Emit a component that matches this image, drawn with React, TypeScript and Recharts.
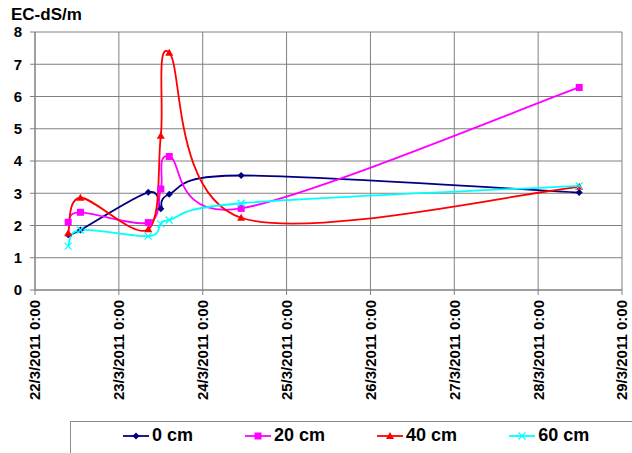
import { LineChart, Line, XAxis, YAxis, CartesianGrid } from 'recharts';

// sampling times (d/m/yyyy h:mm) and EC readings per depth
const sampleTimes = [
  '22/3/2011 9:30',
  '22/3/2011 13:00',
  '23/3/2011 8:25',
  '23/3/2011 12:00',
  '23/3/2011 14:25',
  '24/3/2011 11:00',
  '28/3/2011 11:45',
];
const ec0cm = [1.71, 1.86, 3.03, 2.52, 2.97, 3.55, 3.02];
const ec20cm = [2.1, 2.41, 2.09, 3.13, 4.14, 2.53, 6.28];
const ec40cm = [1.76, 2.86, 1.88, 4.78, 7.36, 2.24, 3.2];
const ec60cm = [1.36, 1.86, 1.67, 2.05, 2.17, 2.69, 3.23];

const dayTicks = [
  '22/3/2011 0:00',
  '23/3/2011 0:00',
  '24/3/2011 0:00',
  '25/3/2011 0:00',
  '26/3/2011 0:00',
  '27/3/2011 0:00',
  '28/3/2011 0:00',
  '29/3/2011 0:00',
];
const ecTicks = [0, 1, 2, 3, 4, 5, 6, 7, 8];

const FONT = '"Liberation Sans", Arial, sans-serif';
const GRID = '#808080';

function parseStamp(s: string): number {
  const [date, time] = s.split(' ');
  const [dd, mm, yy] = date.split('/').map(Number);
  const [h, mi] = time.split(':').map(Number);
  return Date.UTC(yy, mm - 1, dd, h, mi);
}

const tickValues = dayTicks.map(parseStamp);

const data = sampleTimes.map((t, i) => ({
  t: parseStamp(t),
  d0: ec0cm[i],
  d20: ec20cm[i],
  d40: ec40cm[i],
  d60: ec60cm[i],
}));

// Excel-style smoothed line: cubic bezier with control points at 1/6 of neighbour span
function smoothCurve(context: any) {
  let pts: [number, number][] = [];
  return {
    areaStart() {},
    areaEnd() {},
    lineStart() {
      pts = [];
    },
    point(x: number, y: number) {
      pts.push([+x, +y]);
    },
    lineEnd() {
      const n = pts.length;
      if (!n) return;
      context.moveTo(pts[0][0], pts[0][1]);
      for (let i = 0; i < n - 1; i++) {
        const p0 = pts[Math.max(i - 1, 0)];
        const p1 = pts[i];
        const p2 = pts[i + 1];
        const p3 = pts[Math.min(i + 2, n - 1)];
        context.bezierCurveTo(
          p1[0] + (p2[0] - p0[0]) / 6,
          p1[1] + (p2[1] - p0[1]) / 6,
          p2[0] - (p3[0] - p1[0]) / 6,
          p2[1] - (p3[1] - p1[1]) / 6,
          p2[0],
          p2[1]
        );
      }
    },
  };
}

type Marker = 'diamond' | 'square' | 'triangle' | 'cross';

function markerShape(kind: Marker, cx: number, cy: number, color: string, key?: string) {
  switch (kind) {
    case 'diamond':
      return <path key={key} d={`M${cx},${cy - 3.5}L${cx + 3.5},${cy}L${cx},${cy + 3.5}L${cx - 3.5},${cy}Z`} fill={color} />;
    case 'square':
      return <rect key={key} x={cx - 3.5} y={cy - 3.5} width={7} height={7} fill={color} />;
    case 'triangle':
      return <path key={key} d={`M${cx},${cy - 4}L${cx + 4},${cy + 3}L${cx - 4},${cy + 3}Z`} fill={color} />;
    default:
      return (
        <path
          key={key}
          d={`M${cx - 3.5},${cy - 3.5}L${cx + 3.5},${cy + 3.5}M${cx - 3.5},${cy + 3.5}L${cx + 3.5},${cy - 3.5}`}
          stroke={color}
          strokeWidth={1.2}
          fill="none"
        />
      );
  }
}

const series: { key: string; name: string; color: string; marker: Marker }[] = [
  { key: 'd0', name: '0 cm', color: '#000080', marker: 'diamond' },
  { key: 'd20', name: '20 cm', color: '#FF00FF', marker: 'square' },
  { key: 'd40', name: '40 cm', color: '#FF0000', marker: 'triangle' },
  { key: 'd60', name: '60 cm', color: '#00FFFF', marker: 'cross' },
];

function DateTick({ x, y, payload }: any) {
  const label = dayTicks[tickValues.indexOf(payload.value)] ?? '';
  return (
    <text
      x={x}
      y={y}
      dy="0.36em"
      transform={`rotate(-90, ${x}, ${y})`}
      textAnchor="end"
      fontFamily={FONT}
      fontSize={15}
      fontWeight="bold"
      fill="#000"
    >
      {label}
    </text>
  );
}

export default function App() {
  return (
    <div style={{ position: 'absolute', left: 0, top: 0, width: 632, height: 453, background: '#fff', fontFamily: FONT, overflow: 'hidden' }}>
      <div style={{ position: 'absolute', left: 11, top: 5, fontSize: 17, fontWeight: 'bold', color: '#000' }}>EC-dS/m</div>

      <LineChart width={632} height={453} data={data} margin={{ top: 32, right: 10, bottom: 43, left: 5 }}>
        <CartesianGrid stroke={GRID} strokeWidth={1} horizontalValues={ecTicks} verticalValues={tickValues} />
        <XAxis
          dataKey="t"
          type="number"
          domain={[tickValues[0], tickValues[tickValues.length - 1]]}
          ticks={tickValues}
          interval={0}
          height={120}
          tickSize={5}
          tickMargin={5}
          stroke={GRID}
          tick={<DateTick />}
        />
        <YAxis
          domain={[0, 8]}
          ticks={ecTicks}
          interval={0}
          width={30}
          tickSize={5}
          tickMargin={8}
          stroke={GRID}
          tick={{ fill: '#000', fontSize: 15, fontWeight: 'bold', fontFamily: FONT }}
        />
        {series.map((s) => (
          <Line
            key={s.key}
            dataKey={s.key}
            name={s.name}
            type={smoothCurve as any}
            stroke={s.color}
            strokeWidth={1.8}
            isAnimationActive={false}
            activeDot={false}
            dot={(p: any) => markerShape(s.marker, p.cx, p.cy, s.color, `${s.key}-${p.index}`)}
          />
        ))}
      </LineChart>

      <div
        style={{
          position: 'absolute',
          left: 70,
          top: 421,
          width: 600,
          height: 50,
          border: '1px solid #8c8c8c',
          boxSizing: 'border-box',
        }}
      >
        <div style={{ display: 'flex', alignItems: 'center', gap: 52, marginLeft: 52, marginTop: 3 }}>
          {series.map((s) => (
            <div key={s.key} style={{ display: 'flex', alignItems: 'center', gap: 3 }}>
              <svg width={26} height={12}>
                <line x1={0} y1={6} x2={26} y2={6} stroke={s.color} strokeWidth={1.8} />
                {markerShape(s.marker, 13, 6, s.color)}
              </svg>
              <span style={{ fontSize: 18, fontWeight: 'bold', color: '#000' }}>{s.name}</span>
            </div>
          ))}
        </div>
      </div>
    </div>
  );
}
